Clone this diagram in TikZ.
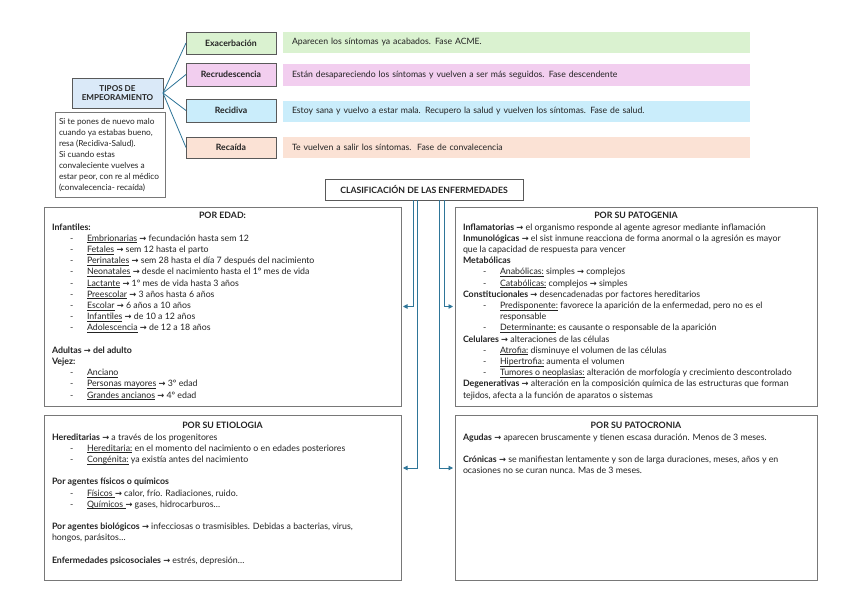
\documentclass[tikz,border=0pt]{standalone}
\usepackage{fontspec}
\setmainfont{Lato}
\newfontfamily\arrfont{DejaVu Sans}
\usetikzlibrary{arrows.meta}
\definecolor{connc}{RGB}{46,117,152}
\definecolor{boxline}{RGB}{89,89,89}
\definecolor{gline}{RGB}{120,120,120}
\definecolor{cgreen}{HTML}{DAF2D0}
\definecolor{cpink}{HTML}{F2CEEF}
\definecolor{cblue}{HTML}{CAEDFB}
\definecolor{corange}{HTML}{FBE2D5}
\definecolor{ctipos}{HTML}{DAE9F8}
\definecolor{txt}{RGB}{35,35,35}
\newcommand\RA{{\arrfont\bfseries\fontsize{8.3}{9}\selectfont →}}
\newsavebox\ulbox
\newcommand\U[1]{\sbox\ulbox{#1}\rlap{\rule[-1.6pt]{\wd\ulbox}{0.5pt}}\usebox\ulbox}
\newcommand\LI{\hspace*{18pt}\makebox[17pt][l]{-}}
\newcommand\RI{\hspace*{20pt}\makebox[17pt][l]{-}}
\begin{document}
\begin{tikzpicture}[x=1pt,y=-1pt,
  every node/.style={inner sep=0pt, outer sep=0pt, text=txt},
  catbox/.style={draw=boxline, line width=0.9pt, minimum width=90pt, minimum height=22pt, anchor=north west, font=\bfseries\fontsize{8.7}{9}\selectfont},
  barbox/.style={minimum width=467pt, minimum height=21pt, anchor=north west, text width=449pt, inner xsep=9pt, align=left, font=\fontsize{8.7}{9}\selectfont},
  bigbox/.style={draw=gline, line width=0.9pt, anchor=north west},
  body/.style={anchor=north west, align=left, font=\fontsize{8.8}{11.2}\selectfont},
  head/.style={anchor=base, font=\bfseries\fontsize{8.8}{10}\selectfont},
  conn/.style={draw=connc, line width=0.8pt},
  connarrow/.style={conn, -{Triangle[length=4.5pt,width=4.5pt]}, shorten >=2pt}
]
\useasboundingbox (0,0) rectangle (848,599);
\fill[white] (0,0) rectangle (848,599);

% --- Tipos de empeoramiento ---
\node[draw=boxline, line width=0.9pt, fill=ctipos, minimum width=91pt, minimum height=30pt, anchor=north west, align=center, font=\bfseries\fontsize{8.1}{9.8}\selectfont] (tipos) at (72,78) {TIPOS DE\\EMPEORAMIENTO};

\node[catbox, fill=cgreen] (exa) at (186,32) {Exacerbación};
\node[catbox, fill=cpink, minimum height=23pt] (rec) at (186,63) {Recrudescencia};
\node[catbox, fill=cblue, minimum height=23pt] (rdv) at (186,99) {Recidiva};
\node[catbox, fill=corange, minimum height=21pt] (rca) at (186,137) {Recaída};

\node[barbox, fill=cgreen] (exat) at (283,32) {Aparecen los síntomas ya acabados. Fase ACME.};
\node[barbox, fill=cpink, minimum height=22pt] (rect) at (283,64) {Están desapareciendo los síntomas y vuelven a ser más seguidos. Fase descendente};
\node[barbox, fill=cblue] (rdvt) at (283,101) {Estoy sana y vuelvo a estar mala. Recupero la salud y vuelven los síntomas. Fase de salud.};
\node[barbox, fill=corange] (rcat) at (283,137) {Te vuelven a salir los síntomas.\ \ Fase de convalecencia};

\draw[conn] (tipos.east) -- (exa.west);
\draw[conn] (tipos.east) -- (rec.west);
\draw[conn] (tipos.east) -- (rdv.west);
\draw[conn] (tipos.east) -- (rca.west);

\node[draw=gline, line width=0.9pt, minimum width=110pt, minimum height=85pt, anchor=north west] (note) at (55,112) {};
\node[anchor=north west, align=left, font=\fontsize{8.3}{11}\selectfont] (notet) at (59,116.3) {\strut Si te pones de nuevo malo\\cuando ya estabas bueno,\\resa (Recidiva-Salud).\\Si cuando estas\\convaleciente vuelves a\\estar peor, con re al médico\\(convalecencia- recaída)};

% --- Clasificación ---
\node[draw=boxline, line width=0.9pt, minimum width=198pt, minimum height=21pt, anchor=north west, font=\bfseries\fontsize{8.7}{9}\selectfont] (clas) at (325,179) {CLASIFICACIÓN DE LAS ENFERMEDADES};

\node[bigbox, minimum width=357pt, minimum height=199pt] (edad) at (44,207) {};
\node[bigbox, minimum width=362pt, minimum height=199pt] (pat) at (455,207) {};
\node[bigbox, minimum width=357pt, minimum height=165pt] (etio) at (44,415) {};
\node[bigbox, minimum width=362pt, minimum height=165pt] (cron) at (455,415) {};

\node[head] (edadh) at (222.5,218) {POR EDAD:};
\node[head] (path) at (636,218) {POR SU PATOGENIA};
\node[head] (etioh) at (222.5,428) {POR SU ETIOLOGIA};
\node[head] (cronh) at (636,428) {POR SU PATOCRONIA};

\node[body] (edadb) at (52,222.16) {\strut\textbf{Infantiles:}\\
\LI\U{Embrionarias} \RA{} fecundación hasta sem 12\\
\LI\U{Fetales} \RA{} sem 12 hasta el parto\\
\LI\U{Perinatales} \RA{} sem 28 hasta el día 7 después del nacimiento\\
\LI\U{Neonatales} \RA{} desde el nacimiento hasta el 1º mes de vida\\
\LI\U{Lactante} \RA{} 1º mes de vida hasta 3 años\\
\LI\U{Preescolar} \RA{} 3 años hasta 6 años\\
\LI\U{Escolar} \RA{} 6 años a 10 años\\
\LI\U{Infantiles} \RA{} de 10 a 12 años\\
\LI\U{Adolescencia} \RA{} de 12 a 18 años\\[11.2pt]
\textbf{Adultas \RA{} del adulto}\\
\textbf{Vejez:}\\
\LI\U{Anciano}\\
\LI\U{Personas mayores} \RA{} 3º edad\\
\LI\U{Grandes ancianos} \RA{} 4º edad};

\node[body] (patb) at (463,222.16) {\strut\textbf{Inflamatorias} \RA{} el organismo responde al agente agresor mediante inflamación\\
\textbf{Inmunológicas} \RA{} el sist inmune reacciona de forma anormal o la agresión es mayor\\
que la capacidad de respuesta para vencer\\
\textbf{Metabólicas}\\
\RI\U{Anabólicas:} simples \RA{} complejos\\
\RI\U{Catabólicas:} complejos \RA{} simples\\
\textbf{Constitucionales} \RA{} desencadenadas por factores hereditarios\\
\RI\U{Predisponente:} favorece la aparición de la enfermedad, pero no es el\\
\hspace*{37pt}responsable\\
\RI\U{Determinante:} es causante o responsable de la aparición\\
\textbf{Celulares} \RA{} alteraciones de las células\\
\RI\U{Atrofia:} disminuye el volumen de las células\\
\RI\U{Hipertrofia:} aumenta el volumen\\
\RI\U{Tumores o neoplasias:} alteración de morfología y crecimiento descontrolado\\
\textbf{Degenerativas} \RA{} alteración en la composición química de las estructuras que forman\\
tejidos, afecta a la función de aparatos o sistemas};

\node[body] (etiob) at (52,432.16) {\strut\textbf{Hereditarias} \RA{} a través de los progenitores\\
\LI\U{Hereditaria:} en el momento del nacimiento o en edades posteriores\\
\LI\U{Congénita:} ya existía antes del nacimiento\\[11.2pt]
\textbf{Por agentes físicos o químicos}\\
\LI\U{Físicos\ }\RA{} calor, frío. Radiaciones, ruido.\\
\LI\U{Químicos\ }\RA{} gases, hidrocarburos…\\[11.2pt]
\textbf{Por agentes biológicos} \RA{} infecciosas o trasmisibles. Debidas a bacterias, virus,\\
hongos, parásitos…\\[11.2pt]
\textbf{Enfermedades psicosociales} \RA{} estrés, depresión…};

\node[body] (cronb) at (463,432.16) {\strut\textbf{Agudas} \RA{} aparecen bruscamente y tienen escasa duración. Menos de 3 meses.\\[11.2pt]
\textbf{Crónicas} \RA{} se manifiestan lentamente y son de larga duraciones, meses, años y en\\
ocasiones no se curan nunca. Mas de 3 meses.};

% --- connectors from title ---
\coordinate (s1) at (413,200);
\coordinate (s2) at (417.5,200);
\coordinate (s3) at (439.5,200);
\coordinate (s4) at (444,200);
\coordinate (lv2) at (0,468);
\draw[connarrow] (s1) |- (edad.east);
\draw[connarrow] (s2) |- (etio.east |- lv2);
\draw[connarrow] (s4) |- (pat.west);
\draw[connarrow] (s3) |- (cron.west |- lv2);
\end{tikzpicture}
\end{document}
